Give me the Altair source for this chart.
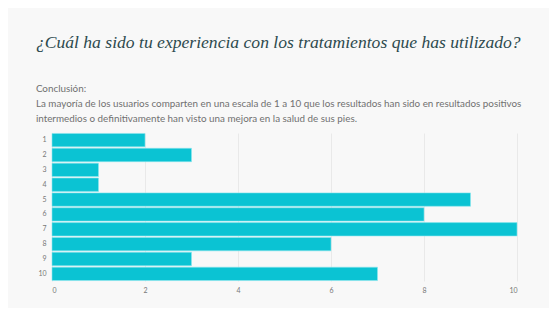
import altair as alt
import pandas as pd

categories = ["1", "2", "3", "4", "5", "6", "7", "8", "9", "10"]
counts = [2, 3, 1, 1, 9, 8, 10, 6, 3, 7]
x_ticks = [0, 2, 4, 6, 8, 10]

title_text = "¿Cuál ha sido tu experiencia con los tratamientos que has utilizado?"
subtitle_lines = [
    "Conclusión:",
    "La mayoría de los usuarios comparten en una escala de 1 a 10 que los resultados han sido en resultados positivos",
    "intermedios o definitivamente han visto una mejora en la salud de sus pies.",
]

df = pd.DataFrame({"cat": categories, "n": counts})

chart = (
    alt.Chart(df)
    .mark_bar(color="#0bc3d3", stroke="#8be6ee", strokeWidth=0.6)
    .encode(
        x=alt.X(
            "n:Q",
            scale=alt.Scale(domain=[0, 10], nice=False),
            axis=alt.Axis(
                values=x_ticks, title=None, domain=False, ticks=False,
                labelFontSize=7, labelColor="#777777", labelFont="Lato",
                labelPadding=5, grid=True, gridColor="#e4e4e4", gridWidth=0.8,
            ),
        ),
        y=alt.Y(
            "cat:N",
            sort=categories,
            scale=alt.Scale(paddingInner=0.1, paddingOuter=0.03),
            axis=alt.Axis(
                title=None, domain=False, ticks=False, labelFontSize=7,
                labelColor="#777777", labelFont="Lato", labelPadding=6,
            ),
        ),
    )
    .properties(
        width=465,
        height=148,
        background="#f8f8f8",
        padding={"left": 44, "top": 125, "right": 32, "bottom": 27},
        autosize=alt.AutoSizeParams(type="none"),
        title=alt.TitleParams(
            text=title_text,
            subtitle=subtitle_lines,
            anchor="start",
            dx=-2,
            offset=9,
            font="Liberation Serif",
            fontSize=17.6,
            fontStyle="italic",
            fontWeight="normal",
            color="#2d4a4e",
            subtitleFont="Lato",
            subtitleFontSize=9.85,
            subtitleColor="#707070",
            subtitleLineHeight=15,
            subtitlePadding=33,
        ),
    )
    .configure_view(stroke=None)
)

chart.save("out.html", embed_options={"renderer": "svg", "actions": False})
